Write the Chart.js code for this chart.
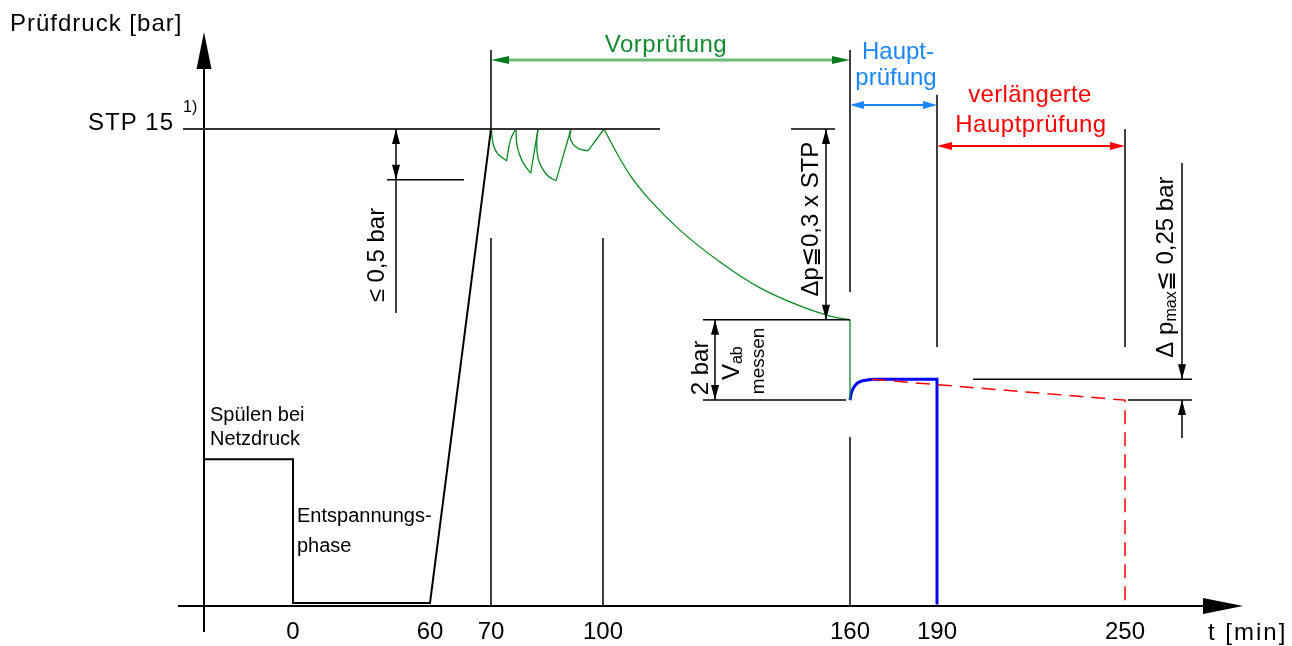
<!DOCTYPE html>
<html>
<head>
<meta charset="utf-8">
<script src="https://cdn.jsdelivr.net/npm/chart.js@4.4.1/dist/chart.umd.min.js"></script>
<style>
  html, body { margin: 0; padding: 0; background: #fff; }
  #wrap { width: 1292px; height: 646px; }
</style>
</head>
<body>
<div id="wrap"><canvas id="chart" width="1292" height="646"></canvas></div>
<script>
// schematic diagram: x in drawing units (t axis is not to scale), y in bar (STP = 15)
const timeLabels = ['0', '60', '70', '100', '160', '190', '250'];
const timePos = [0, 13.7, 19.8, 31.0, 55.7, 64.4, 83.2];
const yAxisPos = -8.9;
const stpLevel = 15;
const flushLevel = 4.55;
const dropLevel = 8.96;      // end of Vorprüfung
const measureLevel = 6.42;   // after V_ab messen
const mainLevel = 7.08;      // Hauptprüfung plateau

const pressureLine = [
    { x: yAxisPos, y: flushLevel }, { x: 0, y: flushLevel }, { x: 0, y: 0 },
    { x: 13.7, y: 0 }, { x: 19.8, y: stpLevel }
];

// Vorprüfung: pressure drops after each refill, then free decay
const vorArcs = [
    [{ x: 19.83, y: 15 }, { x: 19.9, y: 14.75 }, { x: 20.1, y: 14.43 }, { x: 20.5, y: 14.21 }, { x: 21.37, y: 13.99 }],
    [{ x: 22.3, y: 15 }, { x: 22.37, y: 14.56 }, { x: 22.6, y: 14.24 }, { x: 23.03, y: 13.92 }, { x: 23.77, y: 13.6 }],
    [{ x: 24.5, y: 15 }, { x: 24.37, y: 14.55 }, { x: 24.5, y: 14.08 }, { x: 24.9, y: 13.77 }, { x: 25.5, y: 13.51 }, { x: 26.3, y: 13.36 }],
    [{ x: 27.8, y: 15 }, { x: 27.7, y: 14.75 }, { x: 28.0, y: 14.52 }, { x: 28.6, y: 14.37 }, { x: 29.5, y: 14.31 }]
];
const vorRefills = [
    [{ x: 21.37, y: 13.99 }, { x: 21.6, y: 14.45 }, { x: 21.85, y: 14.75 }, { x: 22.3, y: 15 }],
    [{ x: 23.77, y: 13.6 }, { x: 24.5, y: 15 }],
    [{ x: 26.3, y: 13.36 }, { x: 27.8, y: 15 }],
    [{ x: 29.5, y: 14.31 }, { x: 31.1, y: 15 }]
];
const vorDecay = [
    { x: 31.1, y: 15 }, { x: 32.2, y: 14.34 }, { x: 33.7, y: 13.54 }, { x: 35.7, y: 12.75 },
    { x: 38.7, y: 11.80 }, { x: 42.7, y: 10.79 }, { x: 46.7, y: 9.97 }, { x: 50.7, y: 9.40 },
    { x: 53.7, y: 9.08 }, { x: 55.7, y: dropLevel }
];
const vorDrop = [{ x: 55.7, y: dropLevel }, { x: 55.7, y: measureLevel }];

const hauptRise = [{ x: 55.7, y: measureLevel }, { x: 55.95, y: 6.75 }, { x: 56.6, y: 6.99 }, { x: 57.9, y: mainLevel }];
const hauptLine = [{ x: 57.9, y: mainLevel }, { x: 64.4, y: mainLevel }, { x: 64.4, y: -0.05 }];
const extendedLine = [{ x: 57.9, y: mainLevel }, { x: 83.2, y: measureLevel }, { x: 83.2, y: -0.05 }];

const ff = "'Liberation Sans', Arial, 'DejaVu Sans', sans-serif";
const green = '#0b8a22', greenText = '#118a2d', blueText = '#1a86ff', red = '#ff0000';

const schemaPlugin = {
    id: 'schema',
    afterDatasetsDraw(chart) {
        const ctx = chart.ctx;
        const xs = chart.scales.x, ys = chart.scales.y;
        const X = u => xs.getPixelForValue(u);
        const Y = v => ys.getPixelForValue(v);
        ctx.save();

        function seg(u1, v1, u2, v2, color, w) {
            ctx.strokeStyle = color || '#000';
            ctx.lineWidth = w || 1.5;
            ctx.beginPath();
            ctx.moveTo(X(u1), Y(v1));
            ctx.lineTo(X(u2), Y(v2));
            ctx.stroke();
        }
        function head(u, v, dir, color, len, half) {
            const x = X(u), y = Y(v);
            len = len || 15; half = half || 4;
            ctx.fillStyle = color || '#000';
            ctx.beginPath();
            ctx.moveTo(x, y);
            if (dir === 'up') { ctx.lineTo(x - half, y + len); ctx.lineTo(x + half, y + len); }
            if (dir === 'down') { ctx.lineTo(x - half, y - len); ctx.lineTo(x + half, y - len); }
            if (dir === 'left') { ctx.lineTo(x + len, y - half); ctx.lineTo(x + len, y + half); }
            if (dir === 'right') { ctx.lineTo(x - len, y - half); ctx.lineTo(x - len, y + half); }
            ctx.closePath();
            ctx.fill();
        }
        function txt(s, u, v, size, color, align, spacing) {
            ctx.font = size + 'px ' + ff;
            ctx.fillStyle = color || '#000';
            ctx.textAlign = align || 'left';
            ctx.textBaseline = 'alphabetic';
            ctx.letterSpacing = (spacing || 0) + 'px';
            ctx.fillText(s, X(u), Y(v));
            ctx.letterSpacing = '0px';
        }
        function rotText(parts, u, v) {
            ctx.save();
            ctx.translate(X(u), Y(v));
            ctx.rotate(-Math.PI / 2);
            ctx.textAlign = 'left';
            ctx.textBaseline = 'middle';
            ctx.fillStyle = '#000';
            let total = 0;
            parts.forEach(p => { ctx.font = p[1] + 'px ' + ff; total += ctx.measureText(p[0]).width; });
            let x = -total / 2;
            parts.forEach(p => {
                ctx.font = p[1] + 'px ' + ff;
                ctx.fillText(p[0], x, p[2] || 0);
                x += ctx.measureText(p[0]).width;
            });
            ctx.restore();
        }

        // axes
        seg(-11.5, -0.095, 91.5, -0.095, '#000', 2);
        head(95.0, -0.095, 'right', '#000', 40, 8);
        seg(yAxisPos, -0.92, yAxisPos, 17.0, '#000', 2);
        head(yAxisPos, 18.07, 'up', '#000', 37, 7.5);

        // STP level
        seg(-11.0, stpLevel, 36.7, stpLevel, '#333', 2);

        // phase boundaries
        seg(19.8, 17.5, 19.8, stpLevel);
        seg(19.8, 11.55, 19.8, -0.06);
        seg(31.0, 11.55, 31.0, -0.06);
        seg(55.7, 17.5, 55.7, 9.84);
        seg(55.7, 5.25, 55.7, -0.06);
        seg(64.4, 16.08, 64.4, 8.1);
        seg(83.2, 15, 83.2, 8.1);

        // ≤ 0,5 bar
        seg(9.4, 13.39, 17.1, 13.39);
        seg(10.3, 15, 10.3, 9.18);
        head(10.3, 15, 'up');
        head(10.3, 13.39, 'down');
        rotText([['≤ 0,5 bar', 24]], 8.4, 11.01);

        // Δp ≤ 0,3 x STP
        seg(49.8, stpLevel, 54.2, stpLevel);
        seg(53.3, stpLevel, 53.3, dropLevel);
        head(53.3, stpLevel, 'up');
        head(53.3, dropLevel, 'down');
        seg(41.0, dropLevel, 55.7, dropLevel);
        rotText([['Δp≦0,3 x STP', 24]], 51.8, 12.15);

        // 2 bar / V_ab messen
        seg(41.0, measureLevel, 55.3, measureLevel);
        seg(42.2, dropLevel, 42.2, measureLevel);
        head(42.2, dropLevel, 'up');
        head(42.2, measureLevel, 'down');
        rotText([['2 bar', 24]], 40.8, 7.44);
        rotText([['V', 24], ['ab', 16, 6]], 43.9, 7.59);
        rotText([['messen', 19]], 46.6, 7.66);

        // Δp_max ≤ 0,25 bar
        seg(88.9, 13.92, 88.9, mainLevel);
        head(88.9, mainLevel, 'down');
        seg(68.0, mainLevel, 89.9, mainLevel);
        seg(83.5, measureLevel, 89.9, measureLevel);
        seg(88.9, measureLevel, 88.9, 5.22);
        head(88.9, measureLevel, 'up');
        rotText([['Δ p', 24], ['max', 16, 6], ['≦ 0,25 bar', 24]], 87.3, 10.63);

        // phase arrows
        seg(21.5, 17.18, 54.0, 17.18, '#6dbb78', 3);
        head(19.8, 17.18, 'left', '#0a7a1f', 18, 4);
        head(55.7, 17.18, 'right', '#0a7a1f', 18, 4);
        seg(57.0, 15.76, 63.1, 15.76, blueText, 2);
        head(55.7, 15.76, 'left', blueText, 14, 4);
        head(64.4, 15.76, 'right', blueText, 14, 4);
        seg(65.8, 14.46, 81.8, 14.46, red, 2);
        head(64.4, 14.46, 'left', red, 15, 4);
        head(83.2, 14.46, 'right', red, 15, 4);

        // labels
        txt('Prüfdruck [bar]', -28.3, 18.1, 24, '#000', 'left', 1);
        txt('STP 15', -11.9, 14.97, 24, '#000', 'right', 1);
        txt('1)', -11.0, 15.55, 16, '#000', 'left');
        txt('Spülen bei', -8.3, 5.76, 20);
        txt('Netzdruck', -8.3, 5.0, 20);
        txt('Entspannungs-', 0.4, 2.56, 20);
        txt('phase', 0.4, 1.61, 20);
        txt('Vorprüfung', 37.3, 17.44, 24, greenText, 'center', 0.5);
        txt('Haupt-', 60.5, 17.22, 24, blueText, 'center');
        txt('prüfung', 60.3, 16.39, 24, blueText, 'center');
        txt('verlängerte', 73.7, 15.85, 24, red, 'center', 0.3);
        txt('Hauptprüfung', 73.8, 14.91, 24, red, 'center', 0.5);
        timeLabels.forEach((l, i) => txt(l, timePos[i], -1.14, 24, '#000', 'center'));
        txt('t [min]', 91.5, -1.17, 24, '#000', 'left', 2);

        ctx.restore();
    }
};

function lineSet(data, color, width, tension, dash, mono) {
    return {
        data: data, showLine: true, borderColor: color, borderWidth: width,
        pointRadius: 0, tension: tension, borderDash: dash || [],
        cubicInterpolationMode: mono ? 'monotone' : 'default',
        borderJoinStyle: 'miter', fill: false
    };
}

const datasets = [
    lineSet(pressureLine, '#000', 2, 0),
    ...vorArcs.map(s => lineSet(s, green, 1.3, 0.4)),
    ...vorRefills.map(s => lineSet(s, green, 1.3, s.length > 2 ? 0.4 : 0)),
    lineSet(vorDecay, green, 1.3, 0.4, null, true),
    lineSet(vorDrop, green, 1.3, 0),
    lineSet(extendedLine, red, 1.5, 0, [14, 8]),
    lineSet(hauptRise, '#0000ff', 3, 0.4),
    lineSet(hauptLine, '#0000ff', 3, 0)
];

new Chart(document.getElementById('chart'), {
    type: 'scatter',
    data: { datasets: datasets },
    options: {
        responsive: false,
        animation: false,
        devicePixelRatio: 1,
        layout: { padding: 0 },
        plugins: { legend: { display: false }, tooltip: { enabled: false } },
        scales: {
            x: { type: 'linear', display: false, min: -29.3, max: 99.9 },
            y: { type: 'linear', display: false, min: -1.361, max: 19.082 }
        }
    },
    plugins: [schemaPlugin]
});
</script>
</body>
</html>
